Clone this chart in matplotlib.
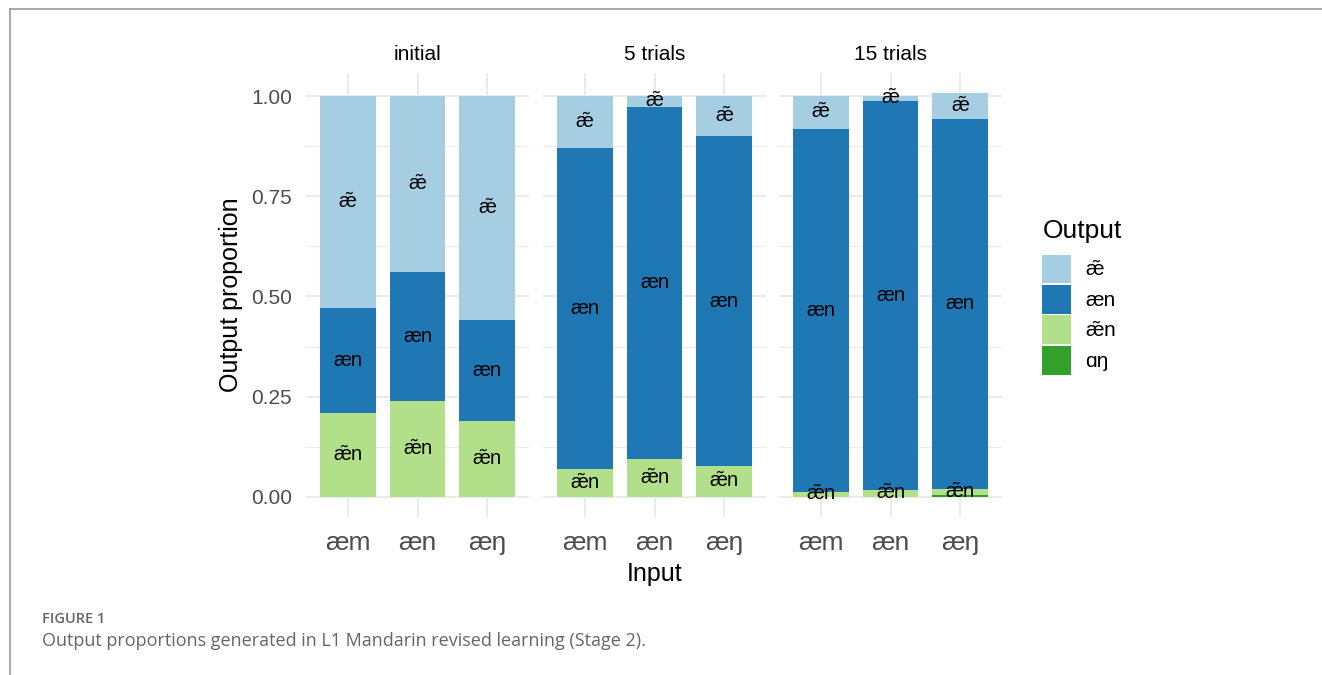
import numpy as np
import matplotlib.pyplot as plt
from matplotlib.patches import Patch
from matplotlib.lines import Line2D

plt.rcParams['font.family'] = ['Liberation Sans', 'DejaVu Sans']
plt.rcParams['mathtext.fontset'] = 'custom'
plt.rcParams['mathtext.rm'] = 'Liberation Sans'
plt.rcParams['mathtext.it'] = 'Liberation Sans'
plt.rcParams['mathtext.default'] = 'rm'

panels = ['initial', '5 trials', '15 trials']
inputs = ['æm', 'æn', 'æŋ']
outputs = ['æ\u0303', 'æn', 'æ\u0303n', 'ɑŋ']   # legend order, top of stack first
# same labels for drawing: the combining tilde is set with mathtext
shown = [r'$\tilde{æ}$', 'æn', r'$\tilde{æ}$n', 'ɑŋ']
colors = ['#A6CEE3', '#1F78B4', '#B2DF8A', '#33A02C']

# proportions per panel, one list per input (æm, æn, æŋ)
nasal_vowel = [[0.53, 0.44, 0.56], [0.13, 0.027, 0.10], [0.082, 0.012, 0.064]]
aen = [[0.26, 0.32, 0.25], [0.80, 0.878, 0.823], [0.906, 0.971, 0.923]]
nasal_aen = [[0.21, 0.24, 0.19], [0.07, 0.095, 0.077], [0.012, 0.017, 0.016]]
ang = [[0, 0, 0], [0, 0, 0], [0, 0, 0.004]]

series = [nasal_vowel, aen, nasal_aen, ang]

fig = plt.figure(figsize=(13.22, 6.75), dpi=100)
W, H = 1322, 675
lefts = [306, 543, 779]
pw = 223
bottom, top = 517, 73

x = np.arange(3)
for p, name in enumerate(panels):
    ax = fig.add_axes([lefts[p] / W, 1 - bottom / H, pw / W, (bottom - top) / H])
    base = np.zeros(3)
    # stack from bottom: ɑŋ, æ̃n, æn, æ̃
    for s in [3, 2, 1, 0]:
        vals = np.array(series[s][p], dtype=float)
        ax.bar(x, vals, 0.8, bottom=base, color=colors[s], zorder=2)
        if s != 3:
            for i in range(3):
                if vals[i] > 0.005:
                    ax.text(x[i], base[i] + vals[i] / 2, shown[s], ha='center',
                            va='center', fontsize=14.5, color='black', zorder=3)
        base += vals
    ax.set_xlim(-0.6, 2.6)
    ax.set_ylim(-0.0504, 1.0574)
    ax.set_xticks(x)
    ax.set_xticklabels(inputs, fontsize=19, color='#4D4D4D')
    ax.set_yticks([0, 0.25, 0.5, 0.75, 1.0])
    ax.set_yticks([0.125, 0.375, 0.625, 0.875], minor=True)
    if p == 0:
        ax.set_yticklabels(['0.00', '0.25', '0.50', '0.75', '1.00'], fontsize=15, color='#4D4D4D')
        ax.set_ylabel('Output proportion', fontsize=18, labelpad=6)
    else:
        ax.set_yticklabels([])
    if p == 1:
        ax.set_xlabel('Input', fontsize=18, labelpad=5)
    ax.tick_params(which='both', length=0, pad=10)
    ax.grid(which='major', color='#EBEBEB', linewidth=1.4, zorder=0)
    ax.grid(which='minor', axis='y', color='#EBEBEB', linewidth=0.8, zorder=0)
    for sp in ax.spines.values():
        sp.set_visible(False)
    ax.set_title(name, fontsize=15, pad=9)

handles = [Patch(facecolor=c, edgecolor='none') for c in colors]
leg = fig.legend(handles, shown, loc='upper left', bbox_to_anchor=(1032 / W, 1 - 209 / H),
                 frameon=False, fontsize=15, title='Output', title_fontsize=19,
                 handlelength=1.35, handleheight=1.75, labelspacing=0.08,
                 handletextpad=0.7, borderpad=0, alignment='left')
leg._legend_box.sep = 8

# page frame and caption
fig.add_artist(Line2D([10 / W, 10 / W], [0, 1 - 9 / H], color='#999999', lw=1.2))
fig.add_artist(Line2D([10 / W, 1], [1 - 9 / H, 1 - 9 / H], color='#999999', lw=1.2))
fig.text(42 / W, 1 - 619 / H, 'FIGURE 1', fontsize=10.5, color='#666666', fontweight='semibold',
         family=['Open Sans', 'DejaVu Sans'], va='center')
fig.text(42 / W, 1 - 641 / H, 'Output proportions generated in L1 Mandarin revised learning (Stage 2).',
         fontsize=13, color='#666666', family=['Open Sans', 'DejaVu Sans'], va='center')

fig.savefig('out.png', dpi=100)
